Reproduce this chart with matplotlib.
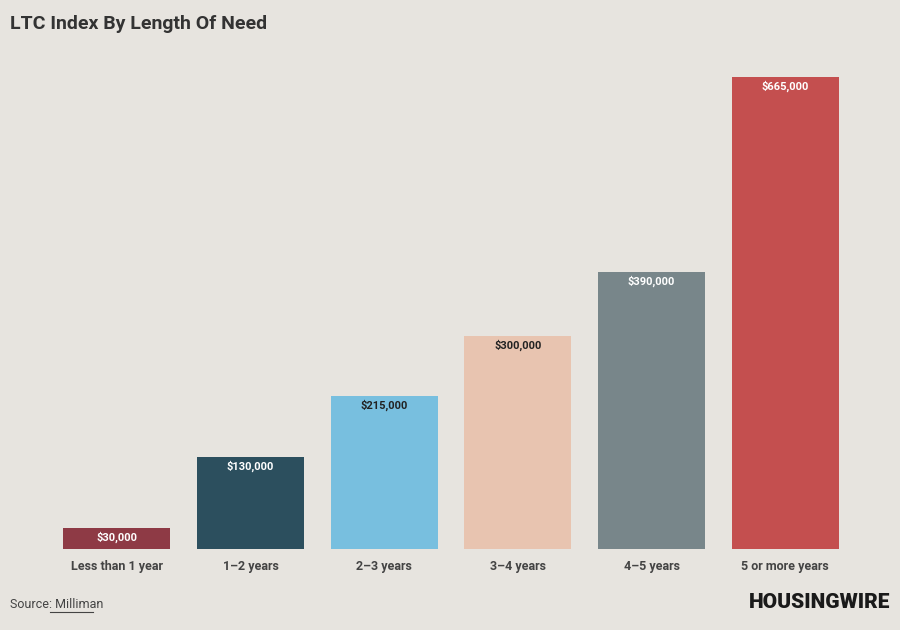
import matplotlib
matplotlib.use("Agg")
import matplotlib.pyplot as plt

categories = ["Less than 1 year", "1\u20132 years", "2\u20133 years", "3\u20134 years", "4\u20135 years", "5 or more years"]
values = [30000, 130000, 215000, 300000, 390000, 665000]
labels = ["$30,000", "$130,000", "$215,000", "$300,000", "$390,000", "$665,000"]
colors = ["#8e3a45", "#2c4f5e", "#78bfdf", "#e8c4b0", "#78868a", "#c44f4f"]
text_colors = ["white", "white", "#222222", "#222222", "white", "white"]

bg = "#e7e4df"
plt.rcParams['font.family'] = ['Roboto', 'DejaVu Sans']
fig = plt.figure(figsize=(9, 6.3), dpi=100, facecolor=bg)
ax = fig.add_axes([50/900, 81/630, 802/900, 472/630], facecolor=bg)
x = range(len(categories))
ax.bar(x, values, width=0.8, color=colors)
for i, (v, l) in enumerate(zip(values, labels)):
    ax.text(i, v - 5000, l, ha="center", va="top", fontsize=8, fontweight="bold", color=text_colors[i])
ax.set_xlim(-0.5, 5.5)
ax.set_ylim(0, 665000)
ax.set_xticks(list(x))
ax.set_xticklabels(categories, fontsize=9, fontweight="bold", color="#444444")
ax.tick_params(axis="x", length=0, pad=8)
ax.set_yticks([])
for s in ax.spines.values():
    s.set_visible(False)
fig.text(10/900, 1 - 24/630, "LTC Index By Length Of Need", fontsize=14, fontweight="bold", color="#333333", va="center")
fig.text(10/900, 1 - 605/630, "Source: Milliman", fontsize=9, color="#444444", va="center")
fig.add_artist(plt.Line2D([50/900, 93/900], [1 - 612/630, 1 - 612/630], color="#444444", lw=0.8))
fig.text(890/900, 1 - 603/630, "HOUSINGWIRE", fontsize=15, fontweight="black", color="#1a1a1a", va="center", ha="right")
fig.savefig("out.png", dpi=100, facecolor=bg)
